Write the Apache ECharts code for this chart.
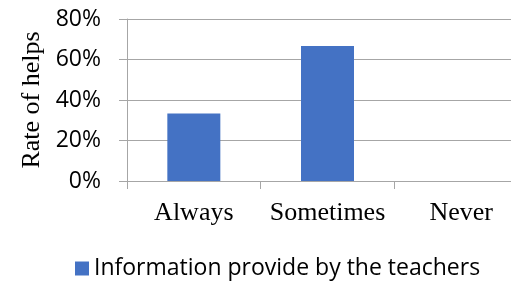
<!DOCTYPE html>
<html>
<head>
<meta charset="utf-8">
<script src="https://cdn.jsdelivr.net/npm/echarts@6/dist/echarts.min.js"></script>
<style>
  html, body { margin: 0; padding: 0; background: #fff; overflow: hidden; }
  /* plot area runs past the right edge of the picture, as in the original crop */
  #chart { width: 530px; height: 281px; }
</style>
</head>
<body>
<div id="chart"></div>
<script>
// data
const categories = ['Always', 'Sometimes', 'Never']
const helpRates = [33.3, 66.7, 0]
const yTicks = [0, 20, 40, 60, 80]
const seriesName = 'Information provide by the teachers'

const lineColor = '#a6a6a6'

var chart = echarts.init(document.getElementById('chart'))
chart.setOption({
    animation: false,
    color: ['#4472c4'],
    grid: { left: 127, top: 19, bottom: 100, right: 2 },
    legend: {
        data: [seriesName],
        left: 70,
        top: 252,
        itemWidth: 14,
        itemHeight: 14,
        itemGap: 9,
        icon: 'rect',
        textStyle: { fontFamily: 'Open Sans', fontSize: 23, color: '#000' }
    },
    xAxis: {
        type: 'category',
        data: categories,
        axisLine: { lineStyle: { color: lineColor, width: 1 } },
        axisTick: { show: true, length: 8, lineStyle: { color: lineColor } },
        axisLabel: { interval: 0, margin: 19, fontFamily: 'Liberation Serif', fontSize: 26, color: '#000' }
    },
    yAxis: {
        type: 'value',
        min: yTicks[0],
        max: yTicks[yTicks.length - 1],
        interval: 20,
        name: 'Rate of helps',
        nameLocation: 'middle',
        nameGap: 73,
        nameTextStyle: { fontFamily: 'Liberation Serif', fontSize: 26, color: '#000' },
        axisLine: { show: true, lineStyle: { color: lineColor, width: 1 } },
        axisTick: { show: true, length: 8, lineStyle: { color: lineColor } },
        splitLine: { lineStyle: { color: lineColor, width: 1 } },
        axisLabel: {
            margin: 26,
            fontFamily: 'Open Sans',
            fontSize: 23,
            color: '#000',
            formatter: v => v + '%'
        }
    },
    series: [{
        name: seriesName,
        type: 'bar',
        barWidth: 53,
        data: helpRates
    }]
})
</script>
</body>
</html>
